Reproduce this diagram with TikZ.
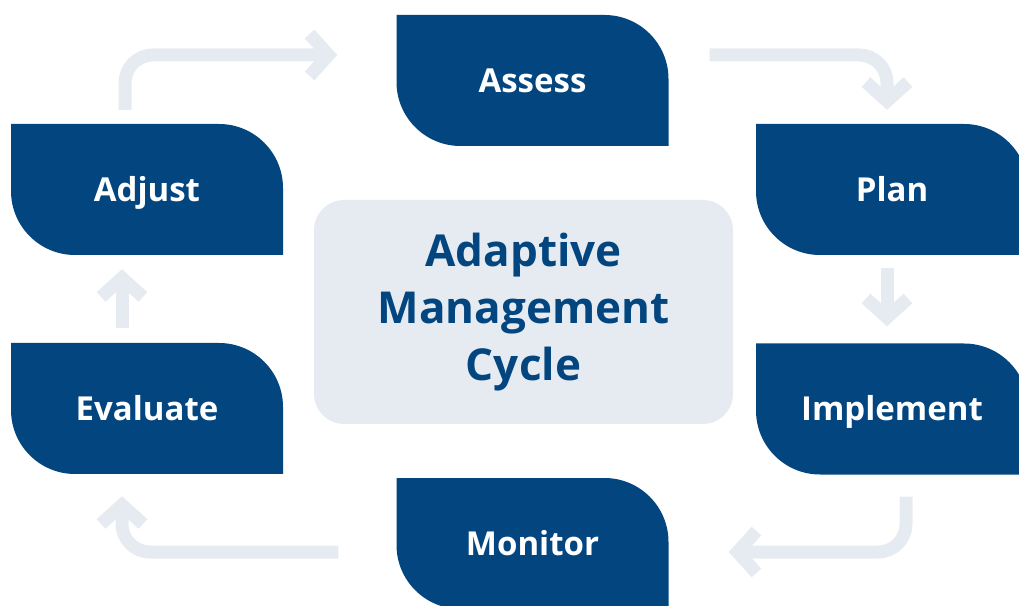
\documentclass[tikz,border=0pt]{standalone}
\usepackage{fontspec}
\setmainfont{Open Sans}
\usetikzlibrary{arrows.meta}
\definecolor{cblue}{HTML}{03467F}
\definecolor{clight}{HTML}{E6EBF2}
\begin{document}
\begin{tikzpicture}[x=1pt,y=1pt,
  stepbox/.style={minimum width=272pt, minimum height=131pt, inner sep=0pt,
    text=white, text height=24pt, text depth=0pt,
    font=\fontsize{33}{40}\selectfont\bfseries,
    path picture={\fill[cblue] (path picture bounding box.north west)
      -- ([xshift=-64pt]path picture bounding box.north east)
      arc[start angle=90,end angle=0,radius=64pt]
      -- (path picture bounding box.south east)
      -- ([xshift=64pt]path picture bounding box.south west)
      arc[start angle=270,end angle=180,radius=64pt] -- cycle;}},
  flow/.style={draw=clight, line width=13pt, rounded corners=28pt,
    -{Straight Barb[length=19pt,width=42pt,sharp]}}
]
\useasboundingbox (0,0) rectangle (1019,605);
\clip (0,0) rectangle (1019,605);

\node (center) [rounded corners=30pt, fill=clight, minimum width=419pt, minimum height=224pt,
  text=cblue, align=center, font=\fontsize{44}{57}\selectfont\bfseries] at (523.5,293)
  {Adaptive\\Management\\Cycle};

\node (assess) [stepbox] at (532.5,524.5) {Assess};
\node (plan) [stepbox] at (892,415.5) {Plan};
\node (implement) [stepbox] at (892,196) {Implement};
\node (monitor) [stepbox] at (532.5,61.5) {Monitor};
\node (evaluate) [stepbox] at (147,196.5) {Evaluate};
\node (adjust) [stepbox] at (147,415.5) {Adjust};

\draw[flow] ([shift={(-22pt,14pt)}]adjust.north) |- ([shift={(-59pt,25.5pt)}]assess.west);
\draw[flow] ([shift={(41pt,25.5pt)}]assess.east) -| ([shift={(-5pt,14pt)}]plan.north);
\draw[flow] ([shift={(-5pt,-13pt)}]plan.south) -- ([shift={(-5pt,17pt)}]implement.north);
\draw[flow] ([shift={(14pt,-22pt)}]implement.south) |- ([shift={(60pt,-8.5pt)}]monitor.east);
\draw[flow] ([shift={(-58pt,-8.5pt)}]monitor.west) -| ([shift={(-25pt,-22pt)}]evaluate.south);
\draw[flow] ([shift={(-25pt,15pt)}]evaluate.north) -- ([shift={(-25pt,-14pt)}]adjust.south);
\end{tikzpicture}
\end{document}
